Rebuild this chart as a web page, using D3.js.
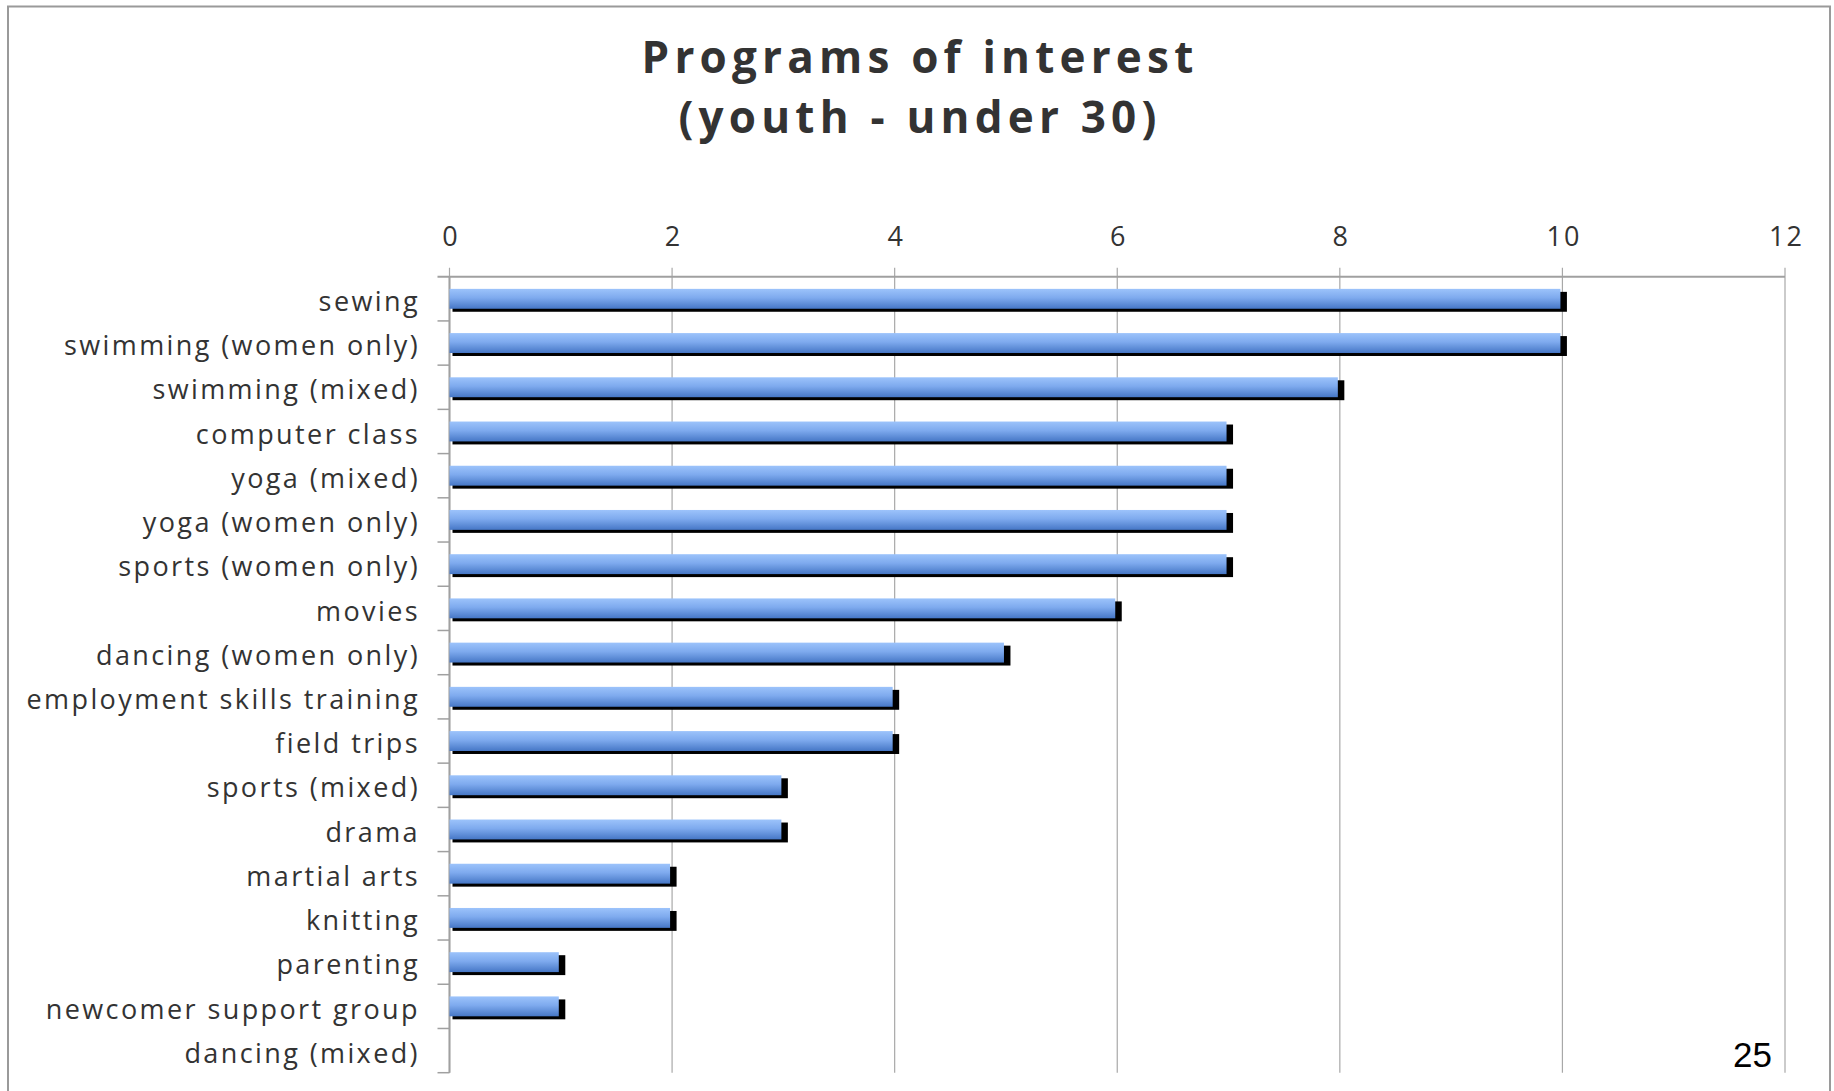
<!DOCTYPE html>
<html>
<head>
<meta charset="utf-8">
<script src="https://cdn.jsdelivr.net/npm/d3@7"></script>
<style>
  html, body { margin: 0; padding: 0; background: #fff; }
  svg { display: block; }
</style>
</head>
<body>
<svg id="chart" width="1834" height="1091"></svg>
<script>
const titleLines = ["Programs of interest", "(youth - under 30)"];
const categories = [
  "sewing", "swimming (women only)", "swimming (mixed)", "computer class",
  "yoga (mixed)", "yoga (women only)", "sports (women only)", "movies",
  "dancing (women only)", "employment skills training", "field trips",
  "sports (mixed)", "drama", "martial arts", "knitting", "parenting",
  "newcomer support group", "dancing (mixed)"
];
const values = [10, 10, 8, 7, 7, 7, 7, 6, 5, 4, 4, 3, 3, 2, 2, 1, 1, 0];
const tickValues = [0, 2, 4, 6, 8, 10, 12];
const pageNumber = "25";

const svg = d3.select("#chart");

// gradient for bars
const defs = svg.append("defs");
const grad = defs.append("linearGradient").attr("id", "barGrad")
  .attr("x1", 0).attr("y1", 0).attr("x2", 0).attr("y2", 1);
grad.append("stop").attr("offset", "0%").attr("stop-color", "#9cc3fb");
grad.append("stop").attr("offset", "45%").attr("stop-color", "#7eaaee");
grad.append("stop").attr("offset", "100%").attr("stop-color", "#4677c6");

// outer border
svg.append("rect")
  .attr("x", 8).attr("y", 6.5).attr("width", 1822).attr("height", 1100)
  .attr("fill", "none").attr("stroke", "#9a9a9a").attr("stroke-width", 2);

// title
const title = svg.append("text")
  .attr("x", 920).attr("text-anchor", "middle")
  .style("font-family", "'Open Sans', sans-serif")
  .style("font-weight", "bold").style("font-size", "44px")
  .style("letter-spacing", "5.2px")
  .attr("fill", "#333333");
title.selectAll("tspan").data(titleLines).join("tspan")
  .attr("x", 920).attr("y", (d, i) => 73 + i * 60)
  .text(d => d);

const x0 = 449.5, x1 = 1785, yTop = 276.7, yBot = 1072.7;
const x = d3.scaleLinear().domain([0, 12]).range([x0, x1]);
const y = d3.scaleBand().domain(categories).range([yTop, yBot])
  .paddingInner(0.55).paddingOuter(0.275);

// vertical gridlines (with small upward ticks)
svg.append("g").selectAll("line").data(tickValues).join("line")
  .attr("x1", d => x(d)).attr("x2", d => x(d))
  .attr("y1", yTop - 9).attr("y2", yBot)
  .attr("stroke", "#a8a8a8").attr("stroke-width", 1.2);

// top axis line
svg.append("line")
  .attr("x1", x0 - 12).attr("x2", x1).attr("y1", yTop).attr("y2", yTop)
  .attr("stroke", "#a0a0a0").attr("stroke-width", 2);

// top axis tick labels
const xAxis = d3.axisTop(x).tickValues(tickValues).tickSize(0).tickPadding(0)
  .tickFormat(d3.format("d"));
const gx = svg.append("g").attr("transform", `translate(0, 246)`).call(xAxis);
gx.select(".domain").remove();
gx.selectAll("text")
  .style("font-family", "'Open Sans', sans-serif")
  .style("font-size", "27px")
  .style("letter-spacing", "2px")
  .attr("fill", "#333333")
  .attr("dx", "1")
  .attr("dy", "0");

// left axis with category tick marks at band boundaries
const step = y.step();
const boundaries = d3.range(categories.length + 1).map(i => yTop + i * step);
svg.append("g").selectAll("line").data(boundaries.slice(1)).join("line")
  .attr("x1", x0 - 12).attr("x2", x0)
  .attr("y1", d => d).attr("y2", d => d)
  .attr("stroke", "#a0a0a0").attr("stroke-width", 1.5);
svg.append("line")
  .attr("x1", x0).attr("x2", x0).attr("y1", yTop).attr("y2", yBot)
  .attr("stroke", "#a0a0a0").attr("stroke-width", 2);

// category labels
svg.append("g").selectAll("text").data(categories).join("text")
  .attr("x", 420)
  .attr("y", d => y(d) + y.bandwidth() / 2)
  .attr("dy", "0.45em")
  .attr("text-anchor", "end")
  .style("font-family", "'Open Sans', sans-serif")
  .style("font-size", "27px")
  .style("letter-spacing", "2.4px")
  .attr("fill", "#333333")
  .text(d => d);

// bars with shadows
const data = categories.map((c, i) => ({ c, v: values[i] }));
const bars = svg.append("g");
bars.selectAll("rect.shadow").data(data.filter(d => d.v > 0)).join("rect")
  .attr("class", "shadow")
  .attr("x", x(0) + 3)
  .attr("y", d => y(d.c) + 3)
  .attr("width", d => x(d.v) - x(0) + 1.5)
  .attr("height", y.bandwidth())
  .attr("fill", "#000");
bars.selectAll("rect.bar").data(data.filter(d => d.v > 0)).join("rect")
  .attr("class", "bar")
  .attr("x", x(0))
  .attr("y", d => y(d.c))
  .attr("width", d => x(d.v) - x(0) - 2)
  .attr("height", y.bandwidth())
  .attr("fill", "url(#barGrad)");

// page number
svg.append("text")
  .attr("x", 1772).attr("y", 1067).attr("text-anchor", "end")
  .style("font-family", "'Liberation Sans', Arial, sans-serif")
  .style("font-size", "35px")
  .attr("fill", "#000")
  .text(pageNumber);
</script>
</body>
</html>
